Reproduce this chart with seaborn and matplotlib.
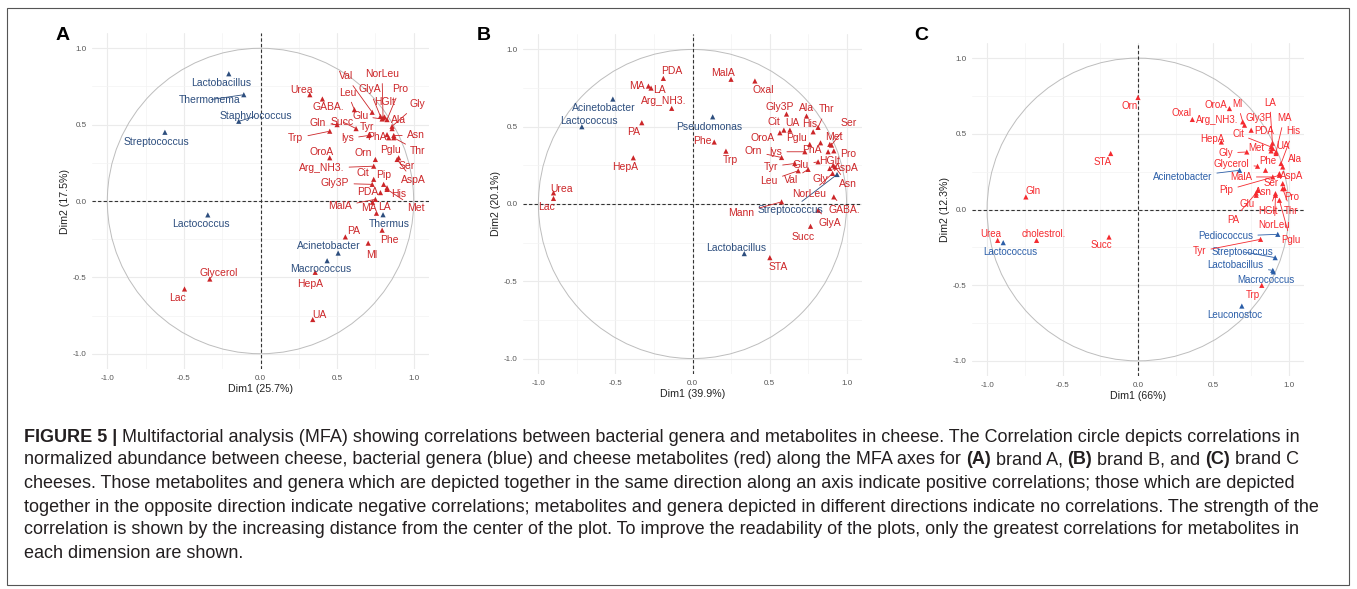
import numpy as np
import pandas as pd
import matplotlib
matplotlib.use("Agg")
import matplotlib.pyplot as plt
import seaborn as sns
from matplotlib.patches import Circle, Rectangle

# ---------------- data: panel A (brand A) ----------------
a_gen_names = ["Lactobacillus", "Thermonema", "Staphylococcus", "Streptococcus",
               "Lactococcus", "Acinetobacter", "Macrococcus", "Thermus"]
a_gen_x = [-0.207, -0.109, -0.142, -0.624, -0.344, 0.507, 0.435, 0.80]
a_gen_y = [0.833, 0.696, 0.522, 0.450, -0.091, -0.341, -0.391, -0.09]

a_met_names = ["Urea", "GABA.", "Val", "Leu", "NorLeu", "GlyA", "Pro", "HGlt", "Gly",
               "Glu", "Ala", "Gln", "Succ", "Tyr", "lys", "PhA", "Asn", "Trp", "Thr",
               "Pglu", "Orn", "OroA", "Ser", "Arg_NH3.", "Cit", "Pip", "AspA", "Gly3P",
               "His", "PDA", "Met", "MalA", "MA", "LA", "Phe", "PA", "Ml", "HepA", "UA",
               "Glycerol", "Lac"]
a_met_x = [0.322, 0.404, 0.729, 0.613, 0.800, 0.783, 0.826, 0.810, 0.859,
           0.794, 0.859, 0.500, 0.624, 0.713, 0.706, 0.826, 0.870, 0.452, 0.870,
           0.837, 0.750, 0.452, 0.902, 0.739, 0.739, 0.804, 0.892, 0.729,
           0.826, 0.783, 0.826, 0.750, 0.731, 0.757, 0.794, 0.554, 0.703, 0.357, 0.341,
           -0.331, -0.496]
a_met_y = [0.696, 0.668, 0.581, 0.598, 0.544, 0.554, 0.533, 0.550, 0.489,
           0.537, 0.474, 0.500, 0.474, 0.435, 0.429, 0.435, 0.429, 0.457, 0.414,
           0.414, 0.272, 0.283, 0.283, 0.228, 0.142, 0.109, 0.272, 0.109,
           0.087, 0.055, 0.076, 0.011, -0.008, -0.080, -0.191, -0.235, -0.276, -0.467, -0.776,
           -0.511, -0.576]

# ---------------- data: panel B (brand B) ----------------
b_gen_names = ["Acinetobacter", "Lactococcus", "Pseudomonas", "Streptococcus", "Lactobacillus"]
b_gen_x = [-0.517, -0.718, 0.131, 0.938, 0.336]
b_gen_y = [0.679, 0.500, 0.564, 0.191, -0.321]

b_met_names = ["Urea", "Lac", "PDA", "MA", "LA", "Arg_NH3.", "PA", "HepA", "MalA", "Oxal",
               "Gly3P", "Ala", "Thr", "Cit", "UA", "His", "Ser", "OroA", "Pglu", "Met",
               "PhA", "Phe", "Trp", "Orn", "lys", "Pro", "HGlt", "Tyr", "Glu", "AspA",
               "Leu", "Val", "Gly", "Asn", "NorLeu", "GABA.", "Mann", "GlyA", "Succ", "STA"]
b_met_x = [-0.902, -0.902, -0.189, -0.286, -0.269, -0.135, -0.329, -0.384, 0.250, 0.405,
           0.610, 0.740, 0.815, 0.593, 0.632, 0.783, 0.902, 0.567, 0.761, 0.891,
           0.831, 0.141, 0.217, 0.578, 0.729, 0.917, 0.880, 0.664, 0.815, 0.913,
           0.686, 0.750, 0.891, 0.924, 0.909, 0.917, 0.578, 0.815, 0.766, 0.502]
b_met_y = [0.072, 0.036, 0.813, 0.763, 0.750, 0.619, 0.526, 0.299, 0.807, 0.796,
           0.582, 0.569, 0.496, 0.478, 0.478, 0.467, 0.381, 0.461, 0.386, 0.386,
           0.396, 0.401, 0.342, 0.301, 0.338, 0.344, 0.338, 0.262, 0.273, 0.251,
           0.215, 0.224, 0.230, 0.240, 0.198, 0.046, 0.014, -0.040, -0.144, -0.347]

# ---------------- data: panel C (brand C) ----------------
c_gen_names = ["Acinetobacter", "Lactococcus", "Pediococcus", "Streptococcus",
               "Lactobacillus", "Macrococcus", "Leuconostoc"]
c_gen_x = [0.673, -0.893, 0.926, 0.909, 0.893, 0.897, 0.688]
c_gen_y = [0.259, -0.219, -0.164, -0.318, -0.402, -0.412, -0.638]

c_met_names = ["Orn", "STA", "Gln", "Urea", "cholestrol.", "Succ", "Oxal", "OroA", "Ml",
               "Arg_NH3.", "Gly3P", "LA", "MA", "His", "Cit", "PDA", "HepA", "UA", "Met",
               "Gly", "Glycerol", "Phe", "Ala", "MalA", "AspA", "Ser", "Pip", "Asn", "Pro",
               "Glu", "HGlt", "Thr", "PA", "NorLeu", "Pglu", "Tyr", "Trp"]
c_met_x = [0.0, -0.181, -0.743, -0.930, -0.672, -0.192, 0.360, 0.606, 0.694,
           0.706, 0.750, 0.893, 0.915, 0.948, 0.882, 0.891, 0.552, 0.915, 0.882,
           0.721, 0.792, 0.845, 0.959, 0.893, 0.937, 0.959, 0.937, 0.794, 0.970,
           0.783, 0.911, 0.959, 0.783, 0.911, 0.937, 0.812, 0.820]
c_met_y = [0.740, 0.370, 0.083, -0.204, -0.204, -0.182, 0.595, 0.667, 0.579,
           0.557, 0.524, 0.403, 0.380, 0.304, 0.413, 0.438, 0.446, 0.370, 0.387,
           0.380, 0.286, 0.259, 0.281, 0.215, 0.237, 0.171, 0.226, 0.127, 0.138,
           0.094, 0.105, 0.138, 0.109, 0.094, 0.061, -0.197, -0.501]

dims = {"A": ("Dim1 (25.7%)", "Dim2 (17.5%)"),
        "B": ("Dim1 (39.9%)", "Dim2 (20.1%)"),
        "C": ("Dim1 (66%)", "Dim2 (12.3%)")}

# ---------------- label placement (pixel offsets, label centre relative to point) ----
a_lab = {"Lactobacillus": (-8, -9), "Thermonema": (-34, -5), "Staphylococcus": (17, 5),
         "Streptococcus": (-8, -10), "Lactococcus": (-7, -9), "Acinetobacter": (-9, 7),
         "Macrococcus": (-6, -8), "Thermus": (6, -9),
         "Urea": (-8, 5), "GABA.": (6, -8), "Val": (-26, 36), "Leu": (-7, 17),
         "NorLeu": (-1, 44), "GlyA": (-11, 27), "Pro": (13, 31), "HGlt": (0, 15),
         "Gly": (25, 22), "Glu": (-22, 3), "Ala": (6, 9), "Gln": (-19, 2), "Succ": (-14, 7),
         "Tyr": (-3, 8), "lys": (-21, -3), "PhA": (-10, -2), "Asn": (22, 0), "Trp": (-34, -7),
         "Thr": (24, -13), "Pglu": (2, -12), "Orn": (-12, 6), "OroA": (-8, 6), "Ser": (8, -8),
         "Arg_NH3.": (-52, -2), "Cit": (-11, 6), "Pip": (0, 9), "AspA": (16, -21),
         "Gly3P": (-37, 1), "His": (12, -6), "PDA": (-13, 1), "Met": (29, -19),
         "MalA": (-35, -7), "MA": (-4, -6), "LA": (8, 6), "Phe": (7, -10), "PA": (8, 6),
         "Ml": (4, -12), "HepA": (-5, -12), "UA": (7, 5), "Glycerol": (9, 6), "Lac": (-7, -9)}
b_lab = {"Acinetobacter": (-9, -9), "Lactococcus": (7, 6), "Pseudomonas": (-3, -10),
         "Streptococcus": (-47, -36), "Lactobacillus": (-8, 6),
         "Urea": (8, 4), "Lac": (-7, -9), "PDA": (8, 7), "MA": (-11, 0), "LA": (8, -2),
         "Arg_NH3.": (-8, 7), "PA": (-8, -9), "HepA": (-8, -9), "MalA": (-8, 6),
         "Oxal": (8, -9), "Gly3P": (-7, 7), "Ala": (0, 8), "Thr": (8, 18), "Cit": (-10, 8),
         "UA": (2, 7), "His": (-3, 8), "Ser": (17, 22), "OroA": (-17, -5), "Pglu": (-13, 6),
         "Met": (4, 7), "PhA": (-9, -7), "Phe": (-12, 1), "Trp": (4, -9), "Orn": (-28, 6),
         "lys": (-29, 0), "Pro": (14, -3), "HGlt": (1, -9), "Tyr": (-24, -3),
         "Glu": (-17, -3), "AspA": (13, -3), "Leu": (-29, -10), "Val": (-17, -11),
         "Gly": (-9, -11), "Asn": (13, -17), "NorLeu": (-23, -21), "GABA.": (11, -13),
         "Mann": (-40, -11), "GlyA": (12, -13), "Succ": (-7, -11), "STA": (8, -9)}
c_lab = {"Acinetobacter": (-57, -7), "Lactococcus": (7, -9), "Pediococcus": (-52, -2),
         "Streptococcus": (-33, 6), "Lactobacillus": (-37, 5), "Macrococcus": (-7, -8),
         "Leuconostoc": (-7, -9),
         "Orn": (-8, -9), "STA": (-8, -9), "Gln": (7, 6), "Urea": (-7, 6),
         "cholestrol.": (7, 6), "Succ": (-8, -8), "Oxal": (-11, 6), "OroA": (-14, 4),
         "Ml": (-5, 18), "Arg_NH3.": (-27, 5), "Gly3P": (8, 12), "LA": (-3, 46),
         "MA": (8, 34), "His": (12, 32), "Cit": (-33, 13), "PDA": (-8, 12), "HepA": (-9, 3),
         "UA": (7, 7), "Met": (-15, 3), "Gly": (-21, -1), "Glycerol": (-26, 2),
         "Phe": (2, 9), "Ala": (12, 8), "MalA": (-32, 0), "AspA": (12, -2), "Ser": (-12, 1),
         "Pip": (-53, -15), "Asn": (6, -2), "Pro": (7, -8), "Glu": (-9, -9),
         "HGlt": (-7, -17), "Thr": (8, -22), "PA": (-23, -27), "NorLeu": (-1, -30),
         "Pglu": (11, -40), "Tyr": (-61, -12), "Trp": (-9, -10)}

W, H = 1357, 589
sns.set_style("white")
plt.rcParams["font.family"] = ["Liberation Sans", "DejaVu Sans"]

fig = plt.figure(figsize=(W / 100, H / 100), dpi=100)
fig.patch.set_facecolor("white")


def px_axes(l, t, r, b):
    return [l / W, 1 - b / H, (r - l) / W, (b - t) / H]


panels = [
    ("A", px_axes(92, 33, 429, 369), a_gen_names, a_gen_x, a_gen_y, a_met_names, a_met_x, a_met_y,
     a_lab, {"genus": "#2D4E7E", "metab": "#CC2629"}, 7.5, (63, 35)),
    ("B", px_axes(523, 34, 862, 374), b_gen_names, b_gen_x, b_gen_y, b_met_names, b_met_x, b_met_y,
     b_lab, {"genus": "#2D4E7E", "metab": "#CC2629"}, 7.5, (484, 35)),
    ("C", px_axes(972, 43, 1304, 376), c_gen_names, c_gen_x, c_gen_y, c_met_names, c_met_x, c_met_y,
     c_lab, {"genus": "#2B5EA8", "metab": "#F52A2F"}, 7.0, (921, 35)),
]

for key, pos, gn, gx, gy, mn, mx, my, labs, pal, fs, letter_xy in panels:
    ax = fig.add_axes(pos)
    df = pd.concat([
        pd.DataFrame({"name": gn, "x": gx, "y": gy, "group": "genus"}),
        pd.DataFrame({"name": mn, "x": mx, "y": my, "group": "metab"}),
    ], ignore_index=True)

    ax.set_xlim(-1.1, 1.1)
    ax.set_ylim(-1.1, 1.1)
    major = [-1.0, -0.5, 0.0, 0.5, 1.0]
    minor = [-0.75, -0.25, 0.25, 0.75]
    ax.set_xticks(major)
    ax.set_yticks(major)
    ax.set_xticklabels(["-1.0", "-0.5", "0.0", "0.5", "1.0"])
    ax.set_yticklabels(["-1.0", "-0.5", "0.0", "0.5", "1.0"])
    ax.set_xticks(minor, minor=True)
    ax.set_yticks(minor, minor=True)
    ax.grid(which="major", color="#EBEBEB", lw=0.8)
    ax.grid(which="minor", color="#F3F3F3", lw=0.5)
    ax.set_axisbelow(True)
    ax.tick_params(which="minor", length=0)
    ax.tick_params(which="major", length=2.5, width=0.6, color="#333333",
                   labelsize=5.8, labelcolor="#555555", pad=1.5)
    for s in ax.spines.values():
        s.set_visible(False)

    ax.add_patch(Circle((0, 0), 1.0, fill=False, ec="#BDBDBD", lw=0.7, zorder=1))
    ax.axhline(0, color="#333333", lw=0.8, ls=(0, (3, 2)), zorder=2)
    ax.axvline(0, color="#333333", lw=0.8, ls=(0, (3, 2)), zorder=2)

    sns.scatterplot(data=df, x="x", y="y", hue="group", palette=pal, marker="^",
                    s=14, linewidth=0, legend=False, ax=ax, zorder=3)

    for _, r in df.iterrows():
        dx, dy = labs[r["name"]]
        c = pal[r["group"]]
        seg = np.hypot(dx, dy) > 15
        ax.annotate(r["name"], (r["x"], r["y"]), xytext=(dx, dy), textcoords="offset pixels",
                    ha="center", va="center", fontsize=fs, color=c, zorder=4,
                    arrowprops=dict(arrowstyle="-", color=c, lw=0.6, shrinkA=1, shrinkB=1)
                    if seg else None)

    ax.set_xlabel(dims[key][0], fontsize=7.7, color="#222222", labelpad=2)
    ax.set_ylabel(dims[key][1], fontsize=7.7, color="#222222", labelpad=2)

    fig.text(letter_xy[0] / W, 1 - letter_xy[1] / H, key, fontsize=14, fontweight="bold",
             ha="center", va="center", color="black")

# frame
fig.patches.append(Rectangle((7 / W, 1 - 585 / H), (1349 - 7) / W, (585 - 8) / H,
                             transform=fig.transFigure, fill=False, ec="#555555", lw=0.8))

# caption
caption_lines = [
    [("FIGURE 5 |", True), ("Multifactorial analysis (MFA) showing correlations between bacterial genera and metabolites in cheese. The Correlation circle depicts correlations in", False)],
    [("normalized abundance between cheese, bacterial genera (blue) and cheese metabolites (red) along the MFA axes for", False),
     ("(A)", True), ("brand A,", False), ("(B)", True), ("brand B, and", False), ("(C)", True), ("brand C", False)],
    [("cheeses. Those metabolites and genera which are depicted together in the same direction along an axis indicate positive correlations; those which are depicted", False)],
    [("together in the opposite direction indicate negative correlations; metabolites and genera depicted in different directions indicate no correlations. The strength of the", False)],
    [("correlation is shown by the increasing distance from the center of the plot. To improve the readability of the plots, only the greatest correlations for metabolites in", False)],
    [("each dimension are shown.", False)],
]
line_y = [437, 460, 483, 507, 530, 553]

renderer = fig.canvas.get_renderer()


def text_w(s, fs, bold=False):
    t = fig.text(0, 0, s, fontsize=fs, fontweight="bold" if bold else "normal")
    w = t.get_window_extent(renderer).width
    t.remove()
    return w


w10 = text_w(caption_lines[3][0][0], 10)
cap_fs = 10 * 1300 / w10
space_w = text_w("a a", cap_fs) - text_w("aa", cap_fs)

for parts, yy in zip(caption_lines, line_y):
    x = 24
    for txt, bold in parts:
        t = fig.text(x / W, 1 - yy / H, txt, fontsize=cap_fs,
                     fontweight="bold" if bold else "normal",
                     ha="left", va="center", color="#231F20")
        x += t.get_window_extent(renderer).width + space_w

fig.savefig("out.png", dpi=100)
